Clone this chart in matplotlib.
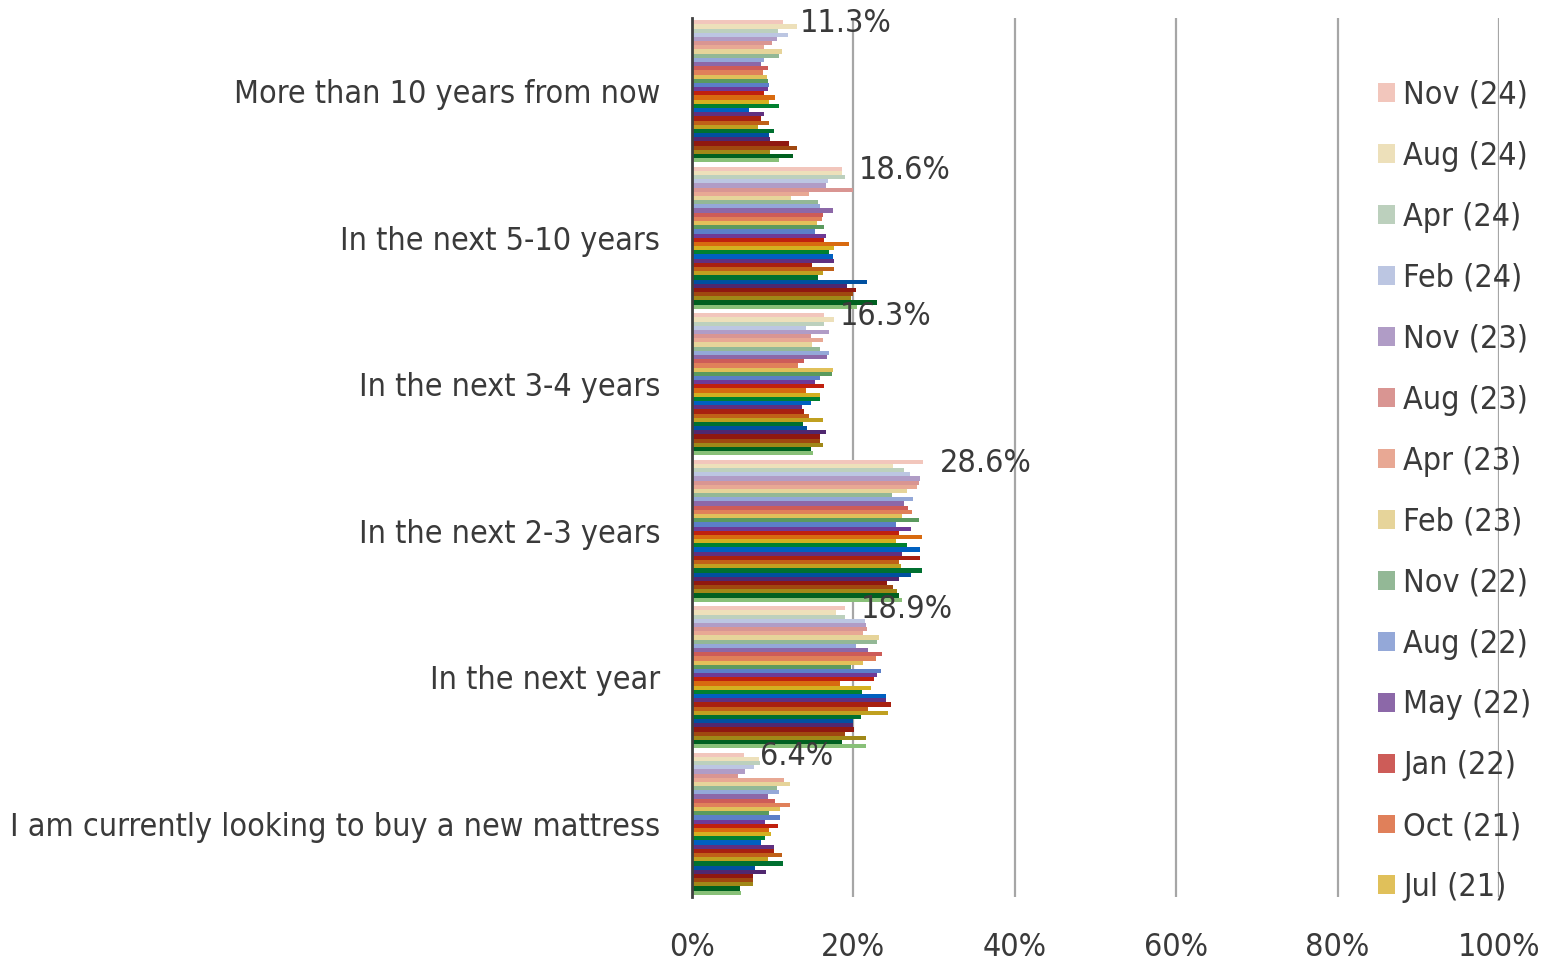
import numpy as np
import matplotlib
matplotlib.use("Agg")
import matplotlib.pyplot as plt
from matplotlib import font_manager

# categories, top to bottom
categories = ["More than 10 years from now", "In the next 5-10 years",
              "In the next 3-4 years", "In the next 2-3 years",
              "In the next year", "I am currently looking to buy a new mattress"]

# legend only lists the 14 most recent waves
legend_labels = ["Nov (24)", "Aug (24)", "Apr (24)", "Feb (24)", "Nov (23)",
                 "Aug (23)", "Apr (23)", "Feb (23)", "Nov (22)", "Aug (22)",
                 "May (22)", "Jan (22)", "Oct (21)", "Jul (21)"]

# % per wave (newest first), one list per category
more_10 = [11.3, 13.0, 10.6, 11.9, 10.5, 9.9, 8.9, 11.1, 10.8, 8.9, 8.5, 9.4, 8.8, 9.3,
           9.4, 9.6, 9.4, 8.9, 10.3, 9.6, 10.8, 7.1, 8.9, 8.5, 9.6, 8.2, 10.2, 9.6,
           9.7, 12.0, 13.0, 9.7, 12.5, 10.8]
next_5_10 = [18.6, 18.6, 18.9, 16.9, 16.6, 20.0, 14.5, 12.3, 15.6, 15.9, 17.5, 16.2, 16.1, 15.5,
             16.4, 15.2, 16.6, 16.4, 19.5, 17.6, 17.0, 17.5, 17.6, 14.9, 17.6, 16.2, 15.6, 21.7,
             19.2, 20.3, 20.0, 19.7, 22.9, 20.5]
next_3_4 = [16.3, 17.6, 16.4, 14.1, 17.0, 14.7, 16.2, 14.9, 15.8, 17.0, 16.7, 13.9, 13.1, 17.5,
            17.4, 15.9, 15.3, 16.4, 14.1, 15.8, 15.8, 14.7, 13.6, 13.9, 14.5, 16.2, 13.8, 14.2,
            16.6, 15.9, 15.8, 16.2, 14.7, 15.0]
next_2_3 = [28.6, 24.9, 26.3, 27.0, 28.2, 28.1, 27.9, 26.7, 24.8, 27.4, 26.3, 26.8, 27.2, 26.0,
            28.1, 25.3, 27.1, 25.6, 28.5, 25.3, 26.7, 28.2, 26.0, 28.2, 25.7, 25.9, 28.5, 27.1,
            25.7, 24.2, 24.9, 25.4, 25.7, 26.0]
next_year = [18.9, 17.8, 19.0, 21.4, 21.5, 21.7, 21.2, 23.2, 22.9, 20.3, 21.8, 23.6, 22.8, 21.2,
             19.7, 23.4, 22.9, 22.6, 18.3, 22.2, 21.1, 24.0, 24.0, 24.6, 21.8, 24.3, 20.9, 20.0,
             20.0, 20.1, 18.9, 21.5, 18.6, 21.5]
looking_now = [6.4, 8.3, 8.4, 7.7, 6.6, 5.7, 11.4, 12.2, 10.5, 10.8, 9.4, 10.3, 12.2, 10.9,
               9.6, 10.9, 9.1, 10.6, 9.6, 9.8, 9.1, 8.6, 10.2, 10.2, 11.1, 9.4, 11.3, 7.8,
               9.2, 7.6, 7.6, 7.6, 6.0, 6.1]

colors = ["#F2C6BC", "#EDE0BA", "#BCD0BD", "#BCC6E2", "#B09CC6", "#D99592", "#E8A894",
          "#E6D49A", "#93B896", "#94A8D8", "#8C68A8", "#CD5C58", "#E0805A", "#E0C05A",
          "#5A9A5E", "#5B7FC8", "#6E3A96", "#C0200E", "#D86A10", "#D4B020", "#008030",
          "#0060C0", "#603080", "#A82010", "#C06018", "#C0A020", "#007030", "#0050A0",
          "#502870", "#901810", "#A04810", "#A08818", "#006020", "#88C078"]

data = np.array([more_10, next_5_10, next_3_4, next_2_3, next_year, looking_now])
n_cat, n_ser = data.shape

# the original uses a narrow font -> take a condensed face if there is one
fp = None
for f in font_manager.fontManager.ttflist:
    narrow = ("Narrow" in f.name or "Condensed" in f.name
              or f.stretch in ("condensed", "semi-condensed"))
    if narrow and f.weight in (400, "normal", "regular") and f.style == "normal":
        fp = font_manager.FontProperties(fname=f.fname)
        break
if fp is None:
    fp = font_manager.FontProperties(family="Roboto")

txt = "#3a3a3a"
fs = 25.5

fig = plt.figure(figsize=(15.59, 9.67), dpi=100)
# shrink the size until the longest label fits in the left margin
r = fig.canvas.get_renderer()
t = fig.text(0, 0, categories[-1], fontproperties=fp, fontsize=fs)
w = t.get_window_extent(r).width
t.remove()
if w > 650:
    fs = fs * 650 / w
fp.set_size(fs)

ax = fig.add_axes([692 / 1559, 1 - 897 / 967, (1499 - 692) / 1559, (897 - 18) / 967])

ypos = np.arange(n_cat)
h = 0.97 / n_ser
for j in range(n_ser):
    lab = legend_labels[j] if j < len(legend_labels) else "_nolegend_"
    ax.barh(ypos + (j - (n_ser - 1) / 2) * h, data[:, j], height=h,
            color=colors[j], label=lab, zorder=2)

# value labels for newest wave
for i in range(n_cat):
    ax.annotate(f"{data[i, 0]:.1f}%", (data[i, 0], i - (n_ser - 1) / 2 * h),
                xytext=(12, -1), textcoords="offset points", ha="left", va="center",
                fontproperties=fp, color=txt, zorder=3)

ax.set_xlim(0, 100)
ax.set_ylim(n_cat - 0.5, -0.5)
ax.set_xticks(np.arange(0, 101, 20))
ax.set_xticklabels([f"{v}%" for v in range(0, 101, 20)], fontproperties=fp, color=txt)
ax.set_yticks(ypos)
ax.set_yticklabels(categories, fontproperties=fp, color=txt)
ax.tick_params(axis="both", length=0)
ax.tick_params(axis="y", pad=23)
ax.tick_params(axis="x", pad=25)
ax.xaxis.grid(True, color="#A6A6A6", linewidth=1.6, zorder=1)
ax.set_axisbelow(True)
for s in ["top", "right", "bottom"]:
    ax.spines[s].set_visible(False)
ax.spines["left"].set_color("#404040")
ax.spines["left"].set_linewidth(2)
ax.spines["left"].set_zorder(4)

# legend rows ~61 px apart in the original
fs_px = fs * 100 / 72
leg = ax.legend(loc="upper left", bbox_to_anchor=(1378 / 1559, 1 - 80 / 967),
                bbox_transform=fig.transFigure, frameon=False, prop=fp,
                handlelength=17 / fs_px, handleheight=17 / fs_px,
                handletextpad=8 / fs_px, labelspacing=0.68 + 8.1 / fs_px,
                borderpad=0, borderaxespad=0)
for t in leg.get_texts():
    t.set_color(txt)

fig.savefig("out.png", dpi=100)
